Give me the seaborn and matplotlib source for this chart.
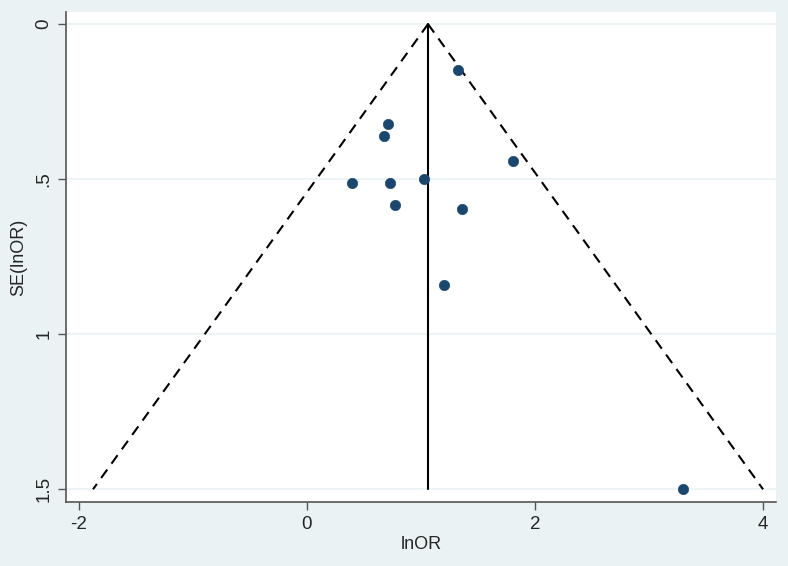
import numpy as np
import pandas as pd
import matplotlib.pyplot as plt
plt.switch_backend('agg')
import seaborn as sns

# study estimates
ln_or = [1.33, 0.71, 0.68, 0.40, 0.73, 1.03, 0.77, 1.36, 1.81, 1.20, 3.30]
se_ln_or = [0.148, 0.322, 0.362, 0.511, 0.511, 0.501, 0.582, 0.596, 0.440, 0.842, 1.50]
pooled = 1.063
se_max = 1.5
y_ticks = [0, 0.5, 1, 1.5]
y_ticklabels = ["0", ".5", "1", "1.5"]
x_ticks = [-2, 0, 2, 4]

bg = "#eaf2f3"
navy = "#1a476f"

sns.set_style("white")
plt.rcParams['font.family'] = ['Liberation Sans', 'DejaVu Sans']

df = pd.DataFrame({"lnOR": ln_or, "SE": se_ln_or})

fig = plt.figure(figsize=(7.88, 5.66), dpi=100, facecolor=bg)
ax = fig.add_axes([0.0838, 0.1131, 0.901, 0.8657])
ax.set_facecolor("white")

# gridlines
for t in y_ticks:
	ax.axhline(t, color=bg, lw=1.2, zorder=0)

# pseudo 95% confidence limits
se_line = np.array([0, se_max])
ax.plot(pooled - 1.96 * se_line, se_line, color="black", ls=(0, (5, 3.5)), lw=1.5, zorder=2)
ax.plot(pooled + 1.96 * se_line, se_line, color="black", ls=(0, (5, 3.5)), lw=1.5, zorder=2)
ax.plot([pooled, pooled], [0, se_max], color="black", lw=1.5, zorder=2)

sns.scatterplot(data=df, x="lnOR", y="SE", color=navy, s=55, edgecolor=navy, linewidth=0.5, ax=ax, zorder=3)

ax.set_xlim(-2.114, 4.117)
ax.set_ylim(1.541, -0.039)
ax.set_xticks(x_ticks)
ax.set_xticklabels([str(t) for t in x_ticks])
ax.set_yticks(y_ticks)
ax.set_yticklabels(y_ticklabels, rotation=90, va="center")
ax.tick_params(axis="both", direction="out", length=6, width=1, color="#555555", labelsize=13.5, pad=4, left=True, bottom=True)
ax.set_xlabel("lnOR", fontsize=13, labelpad=2)
ax.set_ylabel("SE(lnOR)", fontsize=13, labelpad=6)

for side in ["top", "right"]:
	ax.spines[side].set_visible(False)
for side in ["left", "bottom"]:
	ax.spines[side].set_color("#555555")
	ax.spines[side].set_linewidth(1.2)

plt.savefig("out.png", dpi=100, facecolor=bg)
